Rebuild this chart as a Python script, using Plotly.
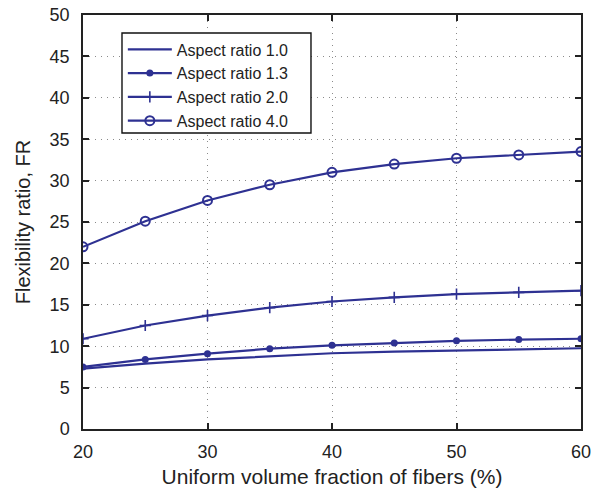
import plotly.graph_objects as go

# Uniform volume fraction of fibers (%)
fraction = [20, 25, 30, 35, 40, 45, 50, 55, 60]

# Flexibility ratio FR per aspect ratio
fr_ar10 = [7.3, 7.9, 8.4, 8.8, 9.15, 9.35, 9.5, 9.62, 9.75]
fr_ar13 = [7.5, 8.4, 9.1, 9.7, 10.1, 10.4, 10.65, 10.8, 10.9]
fr_ar20 = [10.9, 12.5, 13.7, 14.65, 15.4, 15.9, 16.3, 16.5, 16.7]
fr_ar40 = [22.0, 25.1, 27.6, 29.5, 31.0, 32.0, 32.7, 33.1, 33.5]

series_names = ["Aspect ratio 1.0", "Aspect ratio 1.3", "Aspect ratio 2.0", "Aspect ratio 4.0"]

navy = "#2E3192"
ink = "#222222"
font_family = "Liberation Sans, Arial, sans-serif"

fig = go.Figure()
fig.add_trace(go.Scatter(x=fraction, y=fr_ar10, name=series_names[0], mode="lines",
                         line=dict(color=navy, width=2.2)))
fig.add_trace(go.Scatter(x=fraction, y=fr_ar13, name=series_names[1], mode="lines+markers",
                         line=dict(color=navy, width=2.2),
                         marker=dict(symbol="circle", size=7, color=navy)))
fig.add_trace(go.Scatter(x=fraction, y=fr_ar20, name=series_names[2], mode="lines+markers",
                         line=dict(color=navy, width=2.2),
                         marker=dict(symbol="cross-thin", size=8, color=navy,
                                     line=dict(color=navy, width=1.6))))
fig.add_trace(go.Scatter(x=fraction, y=fr_ar40, name=series_names[3], mode="lines+markers",
                         line=dict(color=navy, width=2.2),
                         marker=dict(symbol="circle-open", size=9, color=navy,
                                     line=dict(color=navy, width=2))))

axis_common = dict(
    showline=True, linecolor=ink, linewidth=1.5, mirror="ticks",
    ticks="inside", ticklen=6, tickcolor=ink, tickwidth=1.5,
    showgrid=True, gridcolor="#8a8a8a", griddash="1px,5px", gridwidth=1,
    zeroline=False, automargin=False,
    tickfont=dict(size=18, color=ink, family=font_family),
)

fig.update_xaxes(range=[20, 60], dtick=10, tick0=20, ticklabelstandoff=6,
                 title=dict(text="Uniform volume fraction of fibers (%)", standoff=8,
                            font=dict(size=21, color=ink, family=font_family)),
                 **axis_common)
fig.update_yaxes(range=[0, 50], dtick=5, tick0=0, ticklabelstandoff=8,
                 title=dict(text="Flexibility ratio, FR", standoff=14,
                            font=dict(size=20, color=ink, family=font_family)),
                 **axis_common)

# Framed white panel behind the legend entries
fig.add_shape(type="rect", xref="paper", yref="paper",
              x0=0.0783, x1=0.4578, y0=0.715, y1=0.9565,
              fillcolor="white", line=dict(color="#111111", width=1.4), layer="above")

fig.update_layout(
    width=602, height=489,
    margin=dict(l=83, r=21, t=15, b=60),
    plot_bgcolor="white", paper_bgcolor="white",
    font=dict(family=font_family, color=ink),
    legend=dict(x=0.08, y=0.958, xanchor="left", yanchor="top",
                bgcolor="rgba(0,0,0,0)", borderwidth=0,
                font=dict(size=16, color=ink, family=font_family),
                tracegroupgap=0, itemwidth=44),
)

fig.write_html("out.html")
